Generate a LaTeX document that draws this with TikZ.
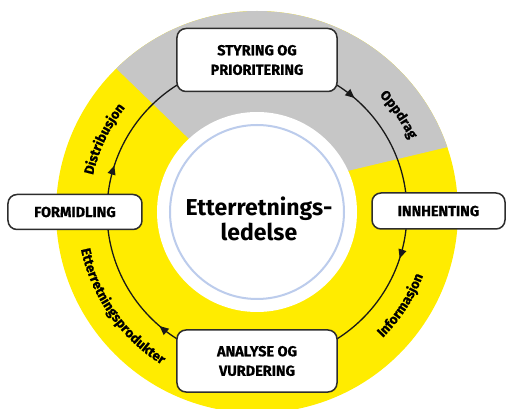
\documentclass[tikz,border=0pt]{standalone}
\usepackage{fontspec}
\setmainfont{Fira Sans}
\newfontfamily\heavyfont{Fira Sans}[FakeBold=0.7]
\usetikzlibrary{arrows.meta,decorations.markings,decorations.text}
\pgfdeclarelayer{background}
\pgfsetlayers{background,main}
\definecolor{ringyellow}{RGB}{255,236,0}
\definecolor{ringgray}{RGB}{198,198,198}
\definecolor{innerblue}{RGB}{188,204,236}
\definecolor{boxline}{RGB}{45,45,45}
\newcommand{\boxfont}{\fontsize{14.5}{19.5}\selectfont\heavyfont\bfseries}
\newcommand{\arcfont}{\fontsize{13.5}{16}\selectfont\heavyfont\bfseries}

\begin{document}
\begin{tikzpicture}[x=1pt,y=1pt,
  stepbox/.style={draw=boxline, line width=1.5pt, fill=white, rounded corners=9pt, align=center, font=\boxfont, inner sep=0pt},
  flow/.style={draw=black!90, line width=1.3pt, postaction={decorate}, decoration={markings, mark=at position #1 with {\arrow{Triangle[length=9pt,width=8pt]}}}},
  arclabel/.style={decorate, decoration={text along path, text align=center, text={|\arcfont|#1}}}]
\useasboundingbox (-257,-197) rectangle (249,212);
\node[stepbox, minimum width=160pt, minimum height=63pt] (styring) at (0,152) {STYRING OG\\PRIORITERING};
\node[stepbox, minimum width=133pt, minimum height=36pt] (innhenting) at (181.5,1) {INNHENTING};
\node[stepbox, minimum width=160pt, minimum height=62pt] (analyse) at (0,-149) {ANALYSE OG\\VURDERING};
\node[stepbox, minimum width=134pt, minimum height=35pt] (formidling) at (-182,0) {FORMIDLING};
\node[font=\fontsize{23}{25}\selectfont\bfseries, align=center] (ledelse) at (2,-7) {Etterretnings-\\ledelse};
\coordinate (cn) at (90:150pt);
\coordinate (ce) at (0:150pt);
\coordinate (cs) at (270:150pt);
\coordinate (cw) at (180:150pt);
\begin{pgfonlayer}{background}
\fill[ringyellow] (0,0) circle[radius=201pt];
\begin{scope}
\clip (0,0) circle[radius=201pt];
\fill[ringgray] (-10,17) -- (-227,227) -- (283,227) -- (283,87) -- cycle;
\end{scope}
\fill[white] (0,0) circle[radius=100pt];
\draw[innerblue, line width=2pt] (0,0) circle[radius=87pt];
\draw[flow=0.45] (cn) arc[start angle=90, end angle=0, radius=150pt];
\draw[flow=0.2] (ce) arc[start angle=0, end angle=-90, radius=150pt];
\draw[flow=0.45] (cs) arc[start angle=270, end angle=180, radius=150pt];
\draw[flow=0.2] (cw) arc[start angle=180, end angle=90, radius=150pt];
\end{pgfonlayer}
\path[arclabel=Oppdrag] (60:169pt) arc[start angle=60, end angle=9, radius=169pt];
\path[arclabel=Informasjon] (-58:178pt) arc[start angle=-58, end angle=-8, radius=178pt];
\path[arclabel=Etterretningsprodukter] (185:180pt) arc[start angle=185, end angle=245, radius=180pt];
\path[arclabel=Distribusjon] (180:168pt) arc[start angle=180, end angle=129, radius=168pt];
\end{tikzpicture}
\end{document}
